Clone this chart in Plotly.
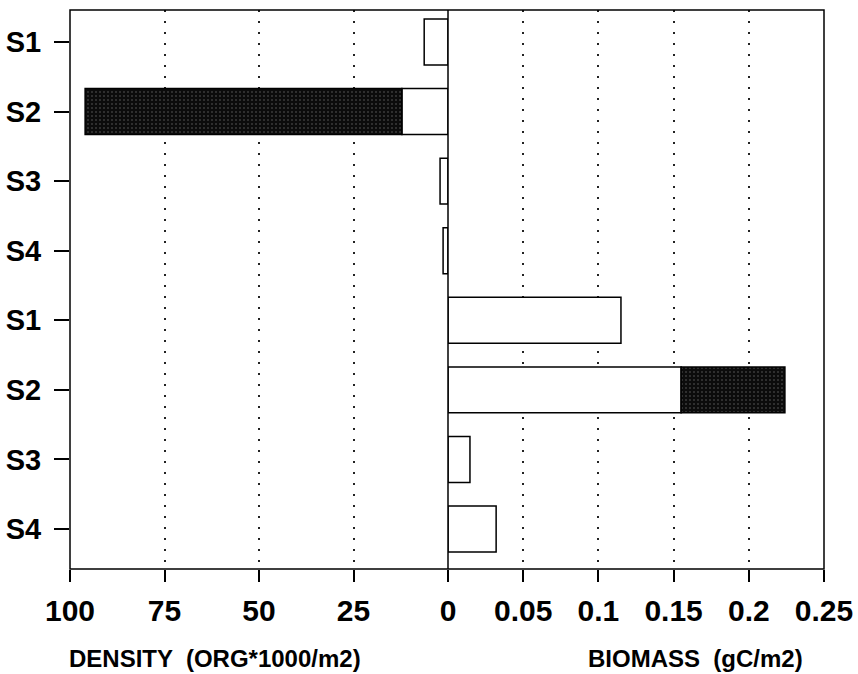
import plotly.graph_objects as go

# ---- data ----
stations = ["S1", "S2", "S3", "S4"]
density_white = [6.3, 12.2, 2.1, 1.3]        # ORG*1000/m2
density_dark = [83.8]                         # S2 only
biomass_white = [0.115, 0.155, 0.0146, 0.032]  # gC/m2
biomass_dark = [0.069]                         # S2 only
density_ticks = [100, 75, 50, 25]
biomass_ticks = [0, 0.05, 0.1, 0.15, 0.2, 0.25]
biomass_ticktext = ["0", "0.05", "0.1", "0.15", "0.2", "0.25"]

dens_rows = [0, 1, 2, 3]
bio_rows = [4, 5, 6, 7]

FONT = "Liberation Sans"
split = 378 / 754
bar_w = 0.66
line = dict(color="black", width=1.5)
dark_marker = dict(
    color="#0c0c0c",
    line=line,
    pattern=dict(shape=".", fgcolor="#6a6a6a", bgcolor="#0c0c0c", size=4, solidity=0.2),
)

fig = go.Figure()
fig.add_trace(go.Bar(x=density_white, y=dens_rows, orientation="h", width=bar_w,
                     marker=dict(color="white", line=line), xaxis="x", yaxis="y",
                     showlegend=False, hoverinfo="skip"))
fig.add_trace(go.Bar(x=density_dark, y=[dens_rows[1]], base=[density_white[1]],
                     orientation="h", width=bar_w, marker=dark_marker,
                     xaxis="x", yaxis="y", showlegend=False, hoverinfo="skip"))
fig.add_trace(go.Bar(x=biomass_white, y=bio_rows, orientation="h", width=bar_w,
                     marker=dict(color="white", line=line), xaxis="x2", yaxis="y",
                     showlegend=False, hoverinfo="skip"))
fig.add_trace(go.Bar(x=biomass_dark, y=[bio_rows[1]], base=[biomass_white[1]],
                     orientation="h", width=bar_w, marker=dark_marker,
                     xaxis="x2", yaxis="y", showlegend=False, hoverinfo="skip"))

tickfont = dict(family=FONT, size=30, color="black", weight="bold")
common_x = dict(showgrid=True, gridcolor="#222222", gridwidth=1.5, griddash="2px,9px",
                zeroline=False, showline=False, ticks="outside", ticklen=12,
                tickwidth=1.5, tickcolor="black", tickfont=tickfont,
                ticklabelstandoff=3, automargin=False)

fig.update_layout(
    width=858, height=674,
    margin=dict(l=70, r=34, t=10, b=105, autoexpand=False),
    paper_bgcolor="white", plot_bgcolor="white",
    barmode="overlay",
    xaxis=dict(domain=[0, split], range=[100, 0], tickvals=density_ticks,
               anchor="y", **common_x),
    xaxis2=dict(domain=[split, 1], range=[0, 0.25], tickvals=biomass_ticks,
                ticktext=biomass_ticktext, anchor="y", **common_x),
    yaxis=dict(range=[7.575, -0.46], tickvals=list(range(8)),
               ticktext=stations + stations, showgrid=False, zeroline=False,
               showline=False, ticks="outside", ticklen=15, tickwidth=1.5,
               tickcolor="black", ticklabelstandoff=7, automargin=False,
               tickfont=dict(family=FONT, size=29, color="black", weight="bold")),
    shapes=[
        dict(type="rect", xref="paper", yref="paper", x0=0, x1=1, y0=0, y1=1,
             line=dict(color="black", width=1.5), layer="above"),
        dict(type="line", xref="paper", yref="paper", x0=split, x1=split, y0=0, y1=1,
             line=dict(color="black", width=1.5), layer="above"),
    ],
    annotations=[
        dict(text="DENSITY  (ORG*1000/m2)", xref="paper", yref="paper",
             x=(215 - 70) / 754, y=(569 - 658) / 559, xanchor="center", yanchor="middle",
             showarrow=False, font=dict(family=FONT, size=24, color="black", weight="bold")),
        dict(text="BIOMASS  (gC/m2)", xref="paper", yref="paper",
             x=(695 - 70) / 754, y=(569 - 658) / 559, xanchor="center", yanchor="middle",
             showarrow=False, font=dict(family=FONT, size=24, color="black", weight="bold")),
    ],
)

fig.write_html("out.html", config={"displayModeBar": False},
               post_script="document.body.style.margin='0';document.body.style.overflow='hidden';")
